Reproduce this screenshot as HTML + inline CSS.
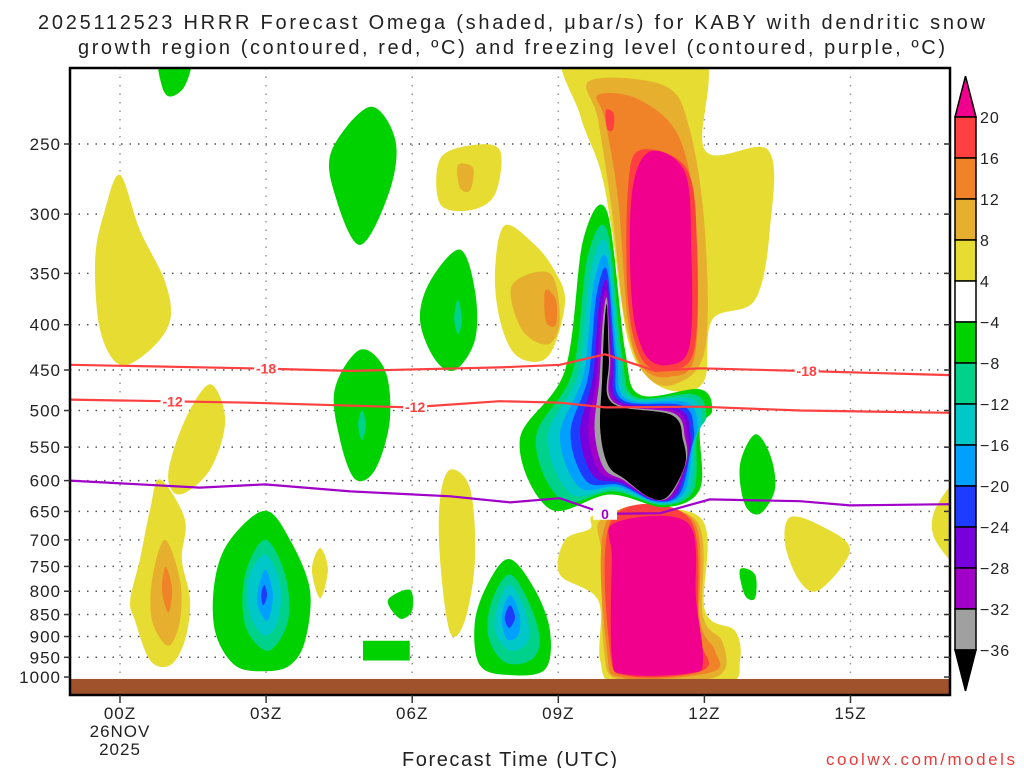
<!DOCTYPE html>
<html><head><meta charset="utf-8"><style>
html,body{margin:0;padding:0;background:#fff;width:1024px;height:768px;overflow:hidden}
svg{display:block;font-family:"Liberation Sans",sans-serif}
</style></head><body>
<svg id="chart" width="1024" height="768" viewBox="0 0 1024 768">
<text x="38" y="29" textLength="947" lengthAdjust="spacing" font-size="20" fill="#222">2025112523 HRRR Forecast Omega (shaded, μbar/s) for KABY with dendritic snow</text>
<text x="78" y="54" textLength="867" lengthAdjust="spacing" font-size="20" fill="#222">growth region (contoured, red, ºC) and freezing level (contoured, purple, ºC)</text>
<defs><clipPath id="pc"><rect x="70" y="68" width="880" height="627"/></clipPath></defs>
<g id="plot" clip-path="url(#pc)"></g>
<g id="axes"></g>
<g id="cbar"></g>
<text x="402" y="766" textLength="215" lengthAdjust="spacing" font-size="20" fill="#222">Forecast Time (UTC)</text>
<text x="826" y="765" textLength="189" lengthAdjust="spacing" font-size="17" fill="#e83c3c">coolwx.com/models</text>
</svg>
<script>
const NS='http://www.w3.org/2000/svg';
const xTicks=[0,3,6,9,12,15];
const xTickLabels=['00Z','03Z','06Z','09Z','12Z','15Z'];
const pLevels=[250,300,350,400,450,500,550,600,650,700,750,800,850,900,950,1000];
const cbLevels=[20,16,12,8,4,-4,-8,-12,-16,-20,-24,-28,-32,-36];
const cbColors=['#f0008c','#ff4040','#f08228','#e6af2d','#e6dc32','#ffffff','#00d200','#00d28c','#00c8c8','#00a0ff','#1e3cff','#7800dc','#a000c8','#a0a0a0','#000000'];
const C={pink:'#f0008c',red:'#ff4040',orange:'#f08228',gold:'#e6af2d',yellow:'#e6dc32',green:'#00d200',teal:'#00d28c',cyan:'#00c8c8',lblue:'#00a0ff',blue:'#1e3cff',purple:'#7800dc',magenta:'#a000c8',gray:'#a0a0a0',black:'#000000'};
const shapes=[
['green',[[0.82,200],[1.44,200],[1.33,215],[1.03,221],[0.86,215]]],
['yellow',[[0,271],[0.41,313],[0.92,357],[1.03,395],[0.62,427],[0,444],[-0.41,405],[-0.51,337],[-0.31,297]]],
['green',[[5.13,227],[5.65,247],[5.54,282],[4.93,325],[4.41,285],[4.35,254]]],
['yellow',[[6.57,260],[7.19,251],[7.8,254],[7.7,285],[7.19,297],[6.57,292]]],
['gold',[[6.94,264],[7.25,266],[7.19,282],[6.98,280]]],
['yellow',[[7.9,309],[8.52,325],[8.93,348],[9.14,375],[8.93,421],[8.62,440],[8.11,432],[7.8,395],[7.7,348]]],
['gold',[[8.05,361],[8.83,350],[9.03,395],[8.79,421],[8.25,405]]],
['orange',[[8.73,366],[8.95,375],[8.95,400],[8.75,397]]],
['green',[[6.98,329],[7.29,366],[7.29,416],[6.88,450],[6.47,438],[6.16,395],[6.37,357]]],
['teal',[[6.94,375],[7.02,395],[6.94,410],[6.86,393]]],
['green',[[4.93,427],[5.44,450],[5.54,513],[5.24,583],[4.83,598],[4.52,540],[4.41,473]]],
['teal',[[4.97,500],[5.05,519],[4.97,540],[4.89,519]]],
['yellow',[[1.85,467],[2.16,513],[1.85,583],[1.23,622],[0.99,590],[1.33,513]]],
['yellow',[[0.82,598],[1.33,663],[1.27,736],[1.44,819],[1.33,910],[1.03,970],[0.62,958],[0.31,864],[0.21,819],[0.41,736],[0.62,646]]],
['gold',[[0.92,700],[1.23,776],[1.23,864],[0.99,922],[0.66,864],[0.66,776]]],
['orange',[[0.94,751],[1.07,797],[0.99,846],[0.86,797]]],
['green',[[2.98,649],[3.49,700],[3.9,797],[3.8,910],[3.49,970],[2.98,985],[2.36,970],[1.95,887],[1.95,776],[2.26,700]]],
['teal',[[2.98,700],[3.39,766],[3.45,864],[3.04,934],[2.57,874],[2.57,766]]],
['cyan',[[2.98,727],[3.29,787],[3.24,864],[2.98,898],[2.67,852],[2.63,776]]],
['lblue',[[2.98,756],[3.14,808],[3.02,864],[2.81,819]]],
['blue',[[2.96,787],[3.02,808],[2.94,830],[2.9,808]]],
['yellow',[[4.11,715],[4.27,756],[4.11,815],[3.94,756]]],
['green',[[5.5,819],[5.95,797],[6.0,841],[5.75,859]]],
['yellow',[[6.78,583],[7.19,613],[7.29,736],[7.08,864],[6.78,891],[6.57,736],[6.57,630]]],
['green',[[8.01,736],[8.52,797],[8.83,887],[8.73,980],[8.01,995],[7.39,970],[7.29,864],[7.6,776]]],
['teal',[[8.01,766],[8.42,830],[8.62,910],[8.42,958],[7.9,962],[7.56,898],[7.64,819]]],
['cyan',[[8.01,787],[8.32,841],[8.38,910],[8.01,934],[7.7,887],[7.76,830]]],
['lblue',[[8.01,808],[8.21,852],[8.17,898],[7.93,905],[7.84,852]]],
['blue',[[8.01,830],[8.11,857],[7.99,880],[7.9,857]]],
['yellow',[[9.2,195],[11.91,195],[12.01,254],[13.31,254],[13.35,310],[13.04,375],[12.16,395],[12.01,461],[11.5,476],[10.88,461],[10.43,416],[10.1,313],[9.86,267],[9.45,232]]],
['gold',[[9.65,212],[11.19,215],[11.7,241],[12.01,313],[12.01,427],[11.39,467],[10.78,455],[10.37,395],[10.1,297],[9.82,235]]],
['orange',[[9.82,220],[10.68,223],[11.5,247],[11.83,313],[11.81,432],[11.29,458],[10.72,446],[10.43,395],[10.23,289],[9.96,235]]],
['red',[[10.68,254],[11.64,267],[11.85,329],[11.79,427],[11.29,450],[10.72,438],[10.43,375],[10.43,282]]],
['pink',[[10.88,255],[11.6,269],[11.73,329],[11.7,421],[11.29,444],[10.78,432],[10.51,375],[10.51,285]]],
['red',[[9.98,229],[10.14,231],[10.12,241],[10.0,240]]],
['yellow',[[9.86,654],[11.91,660],[12.01,841],[12.63,887],[12.73,958],[12.42,1020],[10.27,1020],[9.86,958],[9.82,819],[9.03,766],[9.14,700],[9.65,680]]],
['gold',[[9.96,660],[11.81,663],[11.97,852],[12.36,910],[12.42,980],[11.91,1008],[10.27,1008],[9.94,934],[9.9,736]]],
['orange',[[10.02,663],[11.75,663],[11.91,864],[12.22,934],[12.16,987],[10.37,1003],[10.0,934]]],
['red',[[10.1,663],[11.7,663],[11.87,887],[12.01,980],[10.47,998],[10.06,934]]],
['pink',[[10.16,670],[11.66,670],[11.83,819],[11.97,958],[11.7,990],[10.37,993],[10.1,946],[10.1,736]]],
['green',[[13.04,532],[13.35,561],[13.45,613],[13.14,654],[12.83,638],[12.73,576]]],
['green',[[12.73,756],[13.04,766],[13.04,815],[12.83,808]]],
['yellow',[[13.76,660],[14.37,674],[14.99,718],[14.37,797],[13.96,780],[13.66,709]]],
['yellow',[[17.3,600],[16.74,646],[16.74,700],[17.3,745]]]
];
const rects=[['green',[4.99,910,5.95,958]]];
const coreOuter=[[10.0,298],[10.37,427],[10.68,480],[11.91,473],[12.16,500],[11.91,525],[11.91,613],[11.19,643],[10.06,622],[8.83,646],[8.21,540],[9.14,450],[9.51,321]];
const coreInner=[[10.0,380],[10.04,438],[10.1,490],[11.33,506],[11.56,540],[11.6,576],[11.25,625],[10.88,627],[10.37,598],[10.02,576],[9.86,525],[9.9,461],[9.94,405]];
const coreLevels=['green','teal','cyan','lblue','blue','purple','magenta','gray','black'];
const coreFrac=[0,0.2,0.35,0.5,0.63,0.75,0.85,0.93,1];
const line18=[[-1.03,444],[2.67,448],[4.73,451],[7.8,447],[9.03,444],[9.96,432],[10.99,451],[11.91,448],[13.96,451],[17.04,456]];
const line12=[[-1.03,486],[2.67,490],[5.95,496],[7.8,488],[9.03,490],[9.96,496],[11.91,495],[13.96,500],[17.04,503]];
const line0=[[-1.03,600],[1.64,611],[2.98,606],[4.73,617],[6.78,625],[8.01,635],[9.03,628],[9.96,654],[11.09,653],[12.11,630],[13.96,633],[14.99,640],[17.04,638]];
const lbl18=[3.0,14.1], lbl12=[1.08,6.06], lbl0=[9.96];

const X=h=>120+48.7*h;
const Y=p=>144+384.5*Math.log(p/250);
function el(t,a,parent){const e=document.createElementNS(NS,t);for(const k in a)e.setAttribute(k,a[k]);parent.appendChild(e);return e;}
function smooth(pts){const n=pts.length;let d='M'+pts[0][0].toFixed(1)+','+pts[0][1].toFixed(1);
for(let i=0;i<n;i++){const p0=pts[(i-1+n)%n],p1=pts[i],p2=pts[(i+1)%n],p3=pts[(i+2)%n];
const c1=[p1[0]+(p2[0]-p0[0])/6,p1[1]+(p2[1]-p0[1])/6],c2=[p2[0]-(p3[0]-p1[0])/6,p2[1]-(p3[1]-p1[1])/6];
d+='C'+c1.map(v=>v.toFixed(1))+' '+c2.map(v=>v.toFixed(1))+' '+p2.map(v=>v.toFixed(1));}return d+'Z';}
function openPath(pts){let d='M'+pts[0];for(let i=1;i<pts.length;i++)d+='L'+pts[i];return d;}
const plot=document.getElementById('plot');
pLevels.forEach(p=>{if(p===1000)return;const g=el('line',{x1:70,x2:950,y1:Y(p),y2:Y(p),stroke:'#555','stroke-width':1.5,'stroke-dasharray':'1.5 7'},plot);

});
xTicks.forEach(h=>{const g=el('line',{x1:X(h),x2:X(h),y1:68,y2:695,stroke:'#999','stroke-width':1.5,'stroke-dasharray':'1.5 7'},plot);

});
shapes.forEach((s,i)=>{const pts=s[1].map(q=>[X(q[0]),Y(q[1])]);const e=el('path',{d:smooth(pts),fill:C[s[0]]},plot);

});
rects.forEach(r=>{const a=r[1];const e=el('rect',{x:X(a[0]),y:Y(a[1]),width:X(a[2])-X(a[0]),height:Y(a[3])-Y(a[1]),fill:C[r[0]]},plot);

});
const oP=coreOuter.map(q=>[X(q[0]),Y(q[1])]),iP=coreInner.map(q=>[X(q[0]),Y(q[1])]);
coreLevels.forEach((lv,k)=>{const f=coreFrac[k];const pts=oP.map((o,j)=>[o[0]+(iP[j][0]-o[0])*f,o[1]+(iP[j][1]-o[1])*f]);
const e=el('path',{d:smooth(pts),fill:C[lv]},plot);

});
const gr=el('rect',{x:70,y:Y(1005),width:880,height:30,fill:'#a0522d'},plot);


function drawLine(data,color,name){const pts=data.map(q=>[X(q[0]).toFixed(1),Y(q[1]).toFixed(1)]);
const e=el('path',{d:openPath(pts),fill:'none',stroke:color,'stroke-width':2.2},plot);

}
function interpP(data,h){for(let i=0;i<data.length-1;i++){if(h>=data[i][0]&&h<=data[i+1][0]){const t=(h-data[i][0])/(data[i+1][0]-data[i][0]);return data[i][1]+t*(data[i+1][1]-data[i][1]);}}return data[0][1];}
function drawLabels(hs,data,txt,color,name){hs.forEach(h=>{const x=X(h),y=Y(interpP(data,h));
el('rect',{x:x-12,y:y-6,width:24,height:12,fill:'#fff'},plot);
const t=el('text',{x:x,y:y+5,'text-anchor':'middle','font-size':14,'font-weight':'bold',fill:color},plot);t.textContent=txt;

});}
drawLine(line18,'#ff4040','isotherm-minus18');
drawLine(line12,'#ff4040','isotherm-minus12');
drawLine(line0,'#a000c8','freezing-level-line');
drawLabels(lbl18,line18,'-18','#ff4040','isotherm-label-minus18');
drawLabels(lbl12,line12,'-12','#ff4040','isotherm-label-minus12');
drawLabels(lbl0,line0,'0','#a000c8','freezing-level-label');
const ax=document.getElementById('axes');
const fr=el('rect',{x:70,y:68,width:880,height:627,fill:'none',stroke:'#000','stroke-width':2.5},ax);


pLevels.forEach(p=>{const y=Y(p);el('line',{x1:70,x2:64,y1:y,y2:y,stroke:'#333','stroke-width':1.5},ax);
el('line',{x1:950,x2:944,y1:y,y2:y,stroke:'#333','stroke-width':1.5},ax);
const t=el('text',{x:61,y:y+6,'text-anchor':'end','font-size':17,fill:'#222','letter-spacing':1},ax);t.textContent=p;

});
xTicks.forEach((h,i)=>{const x=X(h);el('line',{x1:x,x2:x,y1:695,y2:703,stroke:'#333','stroke-width':1.5},ax);
const t=el('text',{x:x,y:719,'text-anchor':'middle','font-size':17,fill:'#222','letter-spacing':1},ax);t.textContent=xTickLabels[i];

});
[['26NOV',737],['2025',755]].forEach(a=>{const t=el('text',{x:X(0),y:a[1],'text-anchor':'middle','font-size':17,fill:'#222','letter-spacing':1},ax);t.textContent=a[0];

});
const cb=document.getElementById('cbar');
const cbTop=117,cbStep=41,cx0=955,cx1=976;
const tri1=el('polygon',{points:`${cx0},${cbTop} ${cx1},${cbTop} ${(cx0+cx1)/2},76`,fill:cbColors[0],stroke:'#000','stroke-width':1.5},cb);


for(let i=0;i<cbLevels.length-1;i++){const r=el('rect',{x:cx0,y:cbTop+i*cbStep,width:cx1-cx0,height:cbStep,fill:cbColors[i+1],stroke:'#000','stroke-width':1.5},cb);

}
const yb=cbTop+(cbLevels.length-1)*cbStep;
const tri2=el('polygon',{points:`${cx0},${yb} ${cx1},${yb} ${(cx0+cx1)/2},691`,fill:cbColors[cbColors.length-1],stroke:'#000','stroke-width':1.5},cb);


cbLevels.forEach((v,i)=>{const t=el('text',{x:980,y:cbTop+i*cbStep+6,'font-size':16,fill:'#222','letter-spacing':1},cb);t.textContent=v<0?'\u2212'+(-v):String(v);

});
</script>
</body></html>
